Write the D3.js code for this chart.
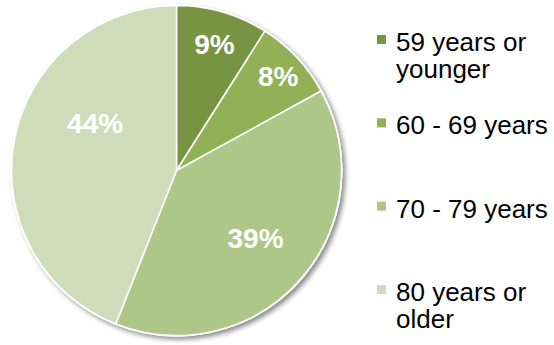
<!DOCTYPE html>
<html>
<head>
<meta charset="utf-8">
<script src="https://cdn.jsdelivr.net/npm/d3@7"></script>
<style>
  html, body { margin: 0; padding: 0; background: #fff; }
  svg { display: block; }
</style>
</head>
<body>
<svg id="chart" width="554" height="345"></svg>
<script>
// Age groups and their share of the total (percent)
const categories = ["59 years or younger", "60 - 69 years", "70 - 79 years", "80 years or older"];
const legendLines = [["59 years or", "younger"], ["60 - 69 years"], ["70 - 79 years"], ["80 years or", "older"]];
const values = [9, 8, 39, 44];
const colors = ["#789442", "#92B055", "#AEC788", "#CEDCB9"];

// Layout
const W = 554, H = 345;
const cx = 176.5, cy = 170.5, R = 165;
// label placement per slice: angle shift (degrees) from the slice middle, radius as fraction of R
const labelShift = [0.5, 0.4, -0.9, 19.3];
const labelRadius = [0.80, 0.84, 0.63, 0.57];

const svg = d3.select("#chart");

const defs = svg.append("defs");
const shadow = defs.append("filter").attr("id", "pieShadow")
  .attr("x", "-10%").attr("y", "-10%").attr("width", "125%").attr("height", "125%");
shadow.append("feDropShadow")
  .attr("dx", 3).attr("dy", 3).attr("stdDeviation", 2.5)
  .attr("flood-color", "#000").attr("flood-opacity", 0.45);

const color = d3.scaleOrdinal().domain(categories).range(colors);

const pie = d3.pie().sort(null).value(d => d.value);
const data = categories.map((c, i) => ({ name: c, value: values[i] }));
const arcs = pie(data);
const arc = d3.arc().innerRadius(0).outerRadius(R);

const g = svg.append("g").attr("transform", `translate(${cx},${cy})`);

// shadow disc with white rim
g.append("circle")
  .attr("r", R + 1)
  .attr("fill", "#fff")
  .attr("filter", "url(#pieShadow)");

g.selectAll("path.slice")
  .data(arcs)
  .enter().append("path")
  .attr("class", "slice")
  .attr("d", arc)
  .attr("fill", d => color(d.data.name))
  .attr("stroke", "#fff")
  .attr("stroke-width", 1.6)
  .attr("stroke-linejoin", "round");

// percentage labels
g.selectAll("text.pct")
  .data(arcs)
  .enter().append("text")
  .attr("class", "pct")
  .attr("transform", (d, i) => {
    const a = (d.startAngle + d.endAngle) / 2 + labelShift[i] * Math.PI / 180;
    const r = R * labelRadius[i];
    return `translate(${r * Math.sin(a)},${-r * Math.cos(a)})`;
  })
  .attr("text-anchor", "middle")
  .attr("dy", "0.36em")
  .attr("font-family", "Liberation Sans, Arial, sans-serif")
  .attr("font-weight", "bold")
  .attr("font-size", 28)
  .attr("fill", "#fff")
  .text(d => d.data.value + "%");

// legend
const legendY = d3.scalePoint().domain(categories).range([51, 301]);
const legend = svg.append("g");
const item = legend.selectAll("g.item")
  .data(categories)
  .enter().append("g")
  .attr("class", "item")
  .attr("transform", d => `translate(0,${legendY(d)})`);

item.append("rect")
  .attr("x", 377).attr("y", -16)
  .attr("width", 9).attr("height", 9)
  .attr("fill", d => color(d));

item.append("text")
  .attr("x", 396)
  .attr("font-family", "Liberation Sans, Arial, sans-serif")
  .attr("font-size", 26)
  .attr("fill", "#000")
  .selectAll("tspan")
  .data((d, i) => legendLines[i])
  .enter().append("tspan")
  .attr("x", 396)
  .attr("dy", (d, j) => j === 0 ? 0 : 27)
  .text(d => d);
</script>
</body>
</html>
